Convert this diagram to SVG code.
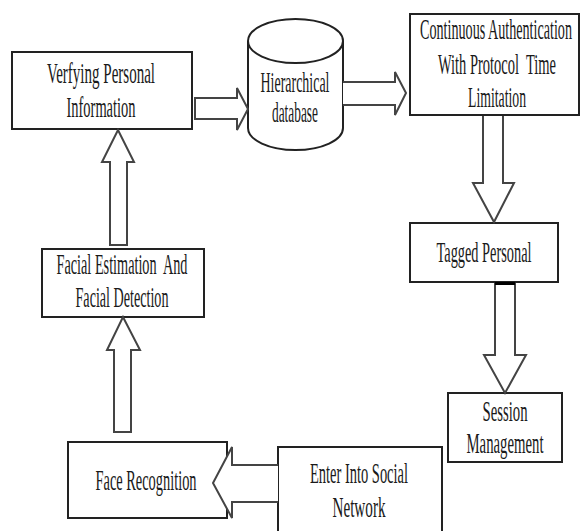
<svg xmlns="http://www.w3.org/2000/svg" width="583" height="531" viewBox="0 0 583 531">
<style>
.box{fill:#fff;stroke:#222;stroke-width:2}
.arr{fill:#fff;stroke:#444;stroke-width:2;stroke-linejoin:miter}
.t{font-family:"Liberation Serif","Times New Roman",serif;font-size:29px;fill:#1a1a1a;text-anchor:middle;white-space:pre}
</style>
<rect width="583" height="531" fill="#fff"/>
<g id="verifying">
<rect class="box" x="12" y="52" width="180" height="77"/>
<text class="t" transform="translate(101,83) scale(0.5,1)" textLength="216" lengthAdjust="spacingAndGlyphs">Verfying Personal</text>
<text class="t" transform="translate(101,117) scale(0.5,1)" textLength="138" lengthAdjust="spacingAndGlyphs">Information</text>
</g>
<g id="database">
<path class="box" d="M248,41 V128 A47.5,22 0 0 0 343,128 V41"/>
<ellipse class="box" cx="295.5" cy="41" rx="47.5" ry="22"/>
<text class="t" transform="translate(295,92) scale(0.5,1)" textLength="138" lengthAdjust="spacingAndGlyphs">Hierarchical</text>
<text class="t" transform="translate(295,122) scale(0.5,1)" textLength="92" lengthAdjust="spacingAndGlyphs">database</text>
</g>
<g id="continuous">
<rect class="box" x="410" y="14" width="169" height="101"/>
<text class="t" transform="translate(496,39) scale(0.5,1)" textLength="304" lengthAdjust="spacingAndGlyphs">Continuous Authentication</text>
<text class="t" transform="translate(497,74) scale(0.5,1)" textLength="236" lengthAdjust="spacingAndGlyphs">With Protocol  Time</text>
<text class="t" transform="translate(497,107) scale(0.5,1)" textLength="116" lengthAdjust="spacingAndGlyphs">Limitation</text>
</g>
<g id="tagged">
<rect class="box" x="410" y="223" width="148" height="59"/>
<text class="t" transform="translate(484,262) scale(0.5,1)" textLength="190" lengthAdjust="spacingAndGlyphs">Tagged Personal</text>
</g>
<g id="session">
<rect class="box" x="448" y="393" width="114" height="69"/>
<text class="t" transform="translate(505,421) scale(0.5,1)" textLength="90" lengthAdjust="spacingAndGlyphs">Session</text>
<text class="t" transform="translate(505,453) scale(0.5,1)" textLength="154" lengthAdjust="spacingAndGlyphs">Management</text>
</g>
<g id="enter">
<path class="box" d="M278,531 V447 H442 V531"/>
<text class="t" transform="translate(359,483) scale(0.5,1)" textLength="196" lengthAdjust="spacingAndGlyphs">Enter Into Social</text>
<text class="t" transform="translate(359,517) scale(0.5,1)" textLength="106" lengthAdjust="spacingAndGlyphs">Network</text>
</g>
<g id="face">
<rect class="box" x="68" y="442" width="159" height="76"/>
<text class="t" transform="translate(146,490) scale(0.5,1)" textLength="202" lengthAdjust="spacingAndGlyphs">Face Recognition</text>
</g>
<g id="facial">
<rect class="box" x="42" y="249" width="162" height="68"/>
<text class="t" transform="translate(122,274) scale(0.5,1)" textLength="262" lengthAdjust="spacingAndGlyphs">Facial Estimation  And</text>
<text class="t" transform="translate(122,307) scale(0.5,1)" textLength="186" lengthAdjust="spacingAndGlyphs">Facial Detection</text>
</g>
<g id="connectors">
<path class="arr" d="M195,98 H237 V88 L248,109 L237,130 V119 H195 Z"/>
<path class="arr" d="M343,82 H395 V72 L406,93 L395,115 V105 H343"/>
<path class="arr" d="M483,116 V183 H473 L494,222 L514,183 H503 V116"/>
<path class="arr" d="M495,283 V355 H484 L505,393 L526,355 H515 V283"/>
<rect x="495" y="282" width="20" height="3" fill="#000"/>
<path class="arr" d="M278,465 H232 V447 L213,483 L232,518 V502 H278"/>
<path class="arr" d="M114,432 V350 H107 L123,317 L140,350 H131 V432 Z"/>
<path class="arr" d="M110,245 V162 H102 L118,130 L134,162 H127 V245 Z"/>
</g>
</svg>
